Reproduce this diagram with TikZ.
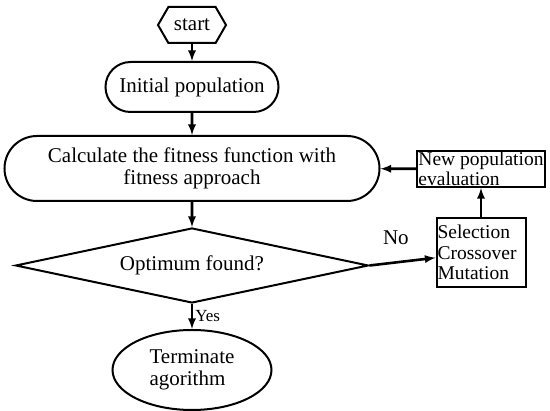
\documentclass[tikz,border=0pt]{standalone}
\usepackage{fontspec}
\setmainfont{Liberation Serif}
\usetikzlibrary{shapes.geometric, shapes.misc, shapes.symbols, arrows}
\usetikzlibrary{positioning}
\tikzstyle{startstop} = [signal, signal to=west and east, signal pointer angle=120, minimum width=68pt, minimum height=36pt, inner sep=0pt, text centered, draw=black, line width=2pt]
\tikzstyle{terminal} = [rounded rectangle, inner sep=0pt, text centered, draw=black, line width=2pt]
\tikzstyle{process} = [rectangle, align=left, inner sep=1pt, draw=black, line width=2pt, font=\fontsize{19.5}{20.5}\selectfont]
\tikzstyle{decision} = [diamond, aspect=4.7, minimum width=353pt, minimum height=75pt, inner sep=0pt, text centered, draw=black, line width=2pt]
\tikzstyle{arrow} = [line width=2.6pt,->,>=latex]

\begin{document}
\begin{tikzpicture}[node distance=1.2cm, font=\fontsize{21}{22.5}\selectfont]
\useasboundingbox (0,0) rectangle (550pt,-411pt);

% Start
\node (start) [startstop] at (192pt,-25pt) {start};

% Initial population
\node (init) [terminal, minimum width=173pt, minimum height=50pt, below=17pt of start] {Initial population};

% Fitness
\node (calc) [terminal, minimum width=375pt, minimum height=65pt, align=center, below=22pt of init] {Calculate the fitness function with\\fitness approach};

% Optimum found?
\node (optimum) [decision, below=25pt of calc] {Optimum found?};

% Terminate
\node (stop) [ellipse, draw=black, line width=2pt, minimum width=159pt, minimum height=80pt, inner sep=0pt, align=left, below=25pt of optimum] {Terminate\\agorithm};

% Genetic operators
\node (operators) [process, text width=87pt, minimum height=69pt, right=66pt of optimum, yshift=13pt] {Selection\\Crossover\\Mutation};

% New population
\node (newpop) [process, minimum width=126pt, above=29pt of operators] {New population\\evaluation};

% Arrows
\draw [arrow] (start) -- (init);
\draw [arrow] (init) -- (calc);
\draw [arrow] (calc) -- (optimum);
\draw [arrow] (optimum) -- node[anchor=west, font=\fontsize{17}{18}\selectfont, inner sep=2pt] {Yes} (stop);
\draw [arrow] (optimum.east) -- node[anchor=south, pos=0.4, yshift=13pt] {No} (operators);
\draw [arrow] (operators) -- (newpop);
\draw [arrow] (newpop) -- (calc);

\end{tikzpicture}
\end{document}
